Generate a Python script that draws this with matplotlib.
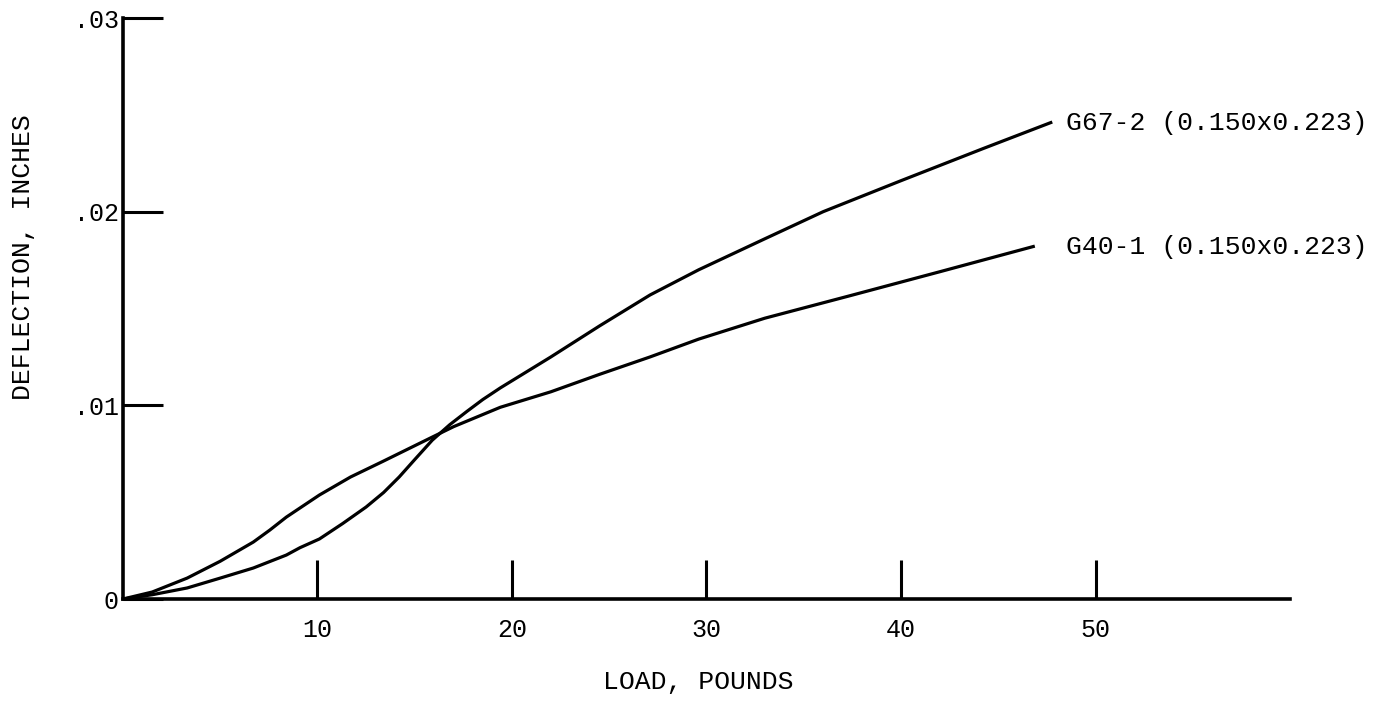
import matplotlib
matplotlib.use("Agg")
import matplotlib.pyplot as plt

# values
load_g67 = [0, 1.5, 3.3, 5.0, 6.7, 8.4, 9.1, 10.1, 11.3, 12.5, 13.4, 14.2,
            15.0, 15.9, 16.8, 17.7, 18.5, 19.4, 22.0, 24.5, 27.1, 29.6,
            33.0, 36.0, 40.0, 44.2, 47.7]
defl_g67 = [0, 0.00022, 0.00057, 0.00108, 0.0016, 0.00227, 0.00265, 0.0031,
            0.0039, 0.00475, 0.0055, 0.0063, 0.0072, 0.0082, 0.0090,
            0.0097, 0.0103, 0.0109, 0.0125, 0.0141, 0.0157, 0.0170, 0.0186,
            0.0200, 0.0216, 0.02325, 0.0246]

load_g40 = [0, 1.5, 3.3, 5.0, 6.7, 7.55, 8.4, 9.1, 10.1, 11.7, 13.35, 15.9,
            17.0, 19.4, 22.0, 24.5, 27.1, 29.6, 33.0, 37.3, 42.0, 46.8]
defl_g40 = [0, 0.00036, 0.00108, 0.00195, 0.00294, 0.00356, 0.00423, 0.0047,
            0.00537, 0.0063, 0.0071, 0.00836, 0.0089, 0.0099, 0.0107, 0.0116,
            0.0125, 0.01342, 0.0145, 0.01564, 0.0169, 0.0182]

label_g67 = "G67-2 (0.150x0.223)"
label_g40 = "G40-1 (0.150x0.223)"

x_ticks = [10, 20, 30, 40, 50]
y_ticks = [0, 0.01, 0.02, 0.03]
y_tick_labels = ["0", ".01", ".02", ".03"]

font = "Liberation Mono"


def main():
    fig = plt.figure(figsize=(13.88, 7.12), dpi=100)
    ax = fig.add_axes([0.0886, 0.1587, 0.8408, 0.816])

    ax.plot(load_g67, defl_g67, color="black", lw=2.3, solid_joinstyle="round")
    ax.plot(load_g40, defl_g40, color="black", lw=2.3, solid_joinstyle="round")

    ax.text(load_g67[-1] + 0.8, defl_g67[-1], label_g67, family=font,
            fontsize=19, va="center", ha="left")
    ax.text(load_g40[-1] + 1.7, defl_g40[-1], label_g40, family=font,
            fontsize=19, va="center", ha="left")

    ax.set_xlim(0, 60)
    ax.set_ylim(0, 0.03)
    ax.spines["top"].set_visible(False)
    ax.spines["right"].set_visible(False)
    ax.spines["left"].set_linewidth(2.6)
    ax.spines["bottom"].set_linewidth(2.6)

    ax.set_xticks(x_ticks)
    ax.set_xticklabels([str(t) for t in x_ticks], family=font, fontsize=18)
    ax.set_yticks(y_ticks)
    ax.set_yticklabels(y_tick_labels, family=font, fontsize=18)
    ax.tick_params(axis="x", direction="in", length=28, width=2.2, pad=14)
    ax.tick_params(axis="y", direction="in", length=29, width=2.2, pad=3)

    ax.set_xlabel("LOAD, POUNDS", family=font, fontsize=19)
    ax.set_ylabel("DEFLECTION, INCHES", family=font, fontsize=19)
    ax.xaxis.set_label_coords(0.493, -0.143)
    ax.xaxis.label.set_va("center")
    ax.yaxis.set_label_coords(-0.086, 0.589)
    ax.yaxis.label.set_va("center")

    fig.savefig("out.png", dpi=100)


if __name__ == "__main__":
    main()
